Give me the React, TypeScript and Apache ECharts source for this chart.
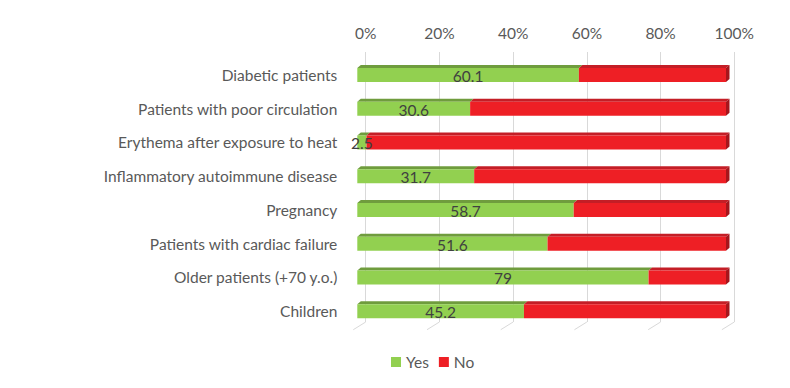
import React, { useEffect, useRef } from "react";
import * as echarts from "echarts";

const categories = [
  "Diabetic patients",
  "Patients with poor circulation",
  "Erythema after exposure to heat",
  "Inflammatory autoimmune disease",
  "Pregnancy",
  "Patients with cardiac failure",
  "Older patients (+70 y.o.)",
  "Children",
];
const yesValues = [60.1, 30.6, 2.5, 31.7, 58.7, 51.6, 79, 45.2];
const noValues = yesValues.map((v) => +(100 - v).toFixed(1));
const xTicks = [0, 20, 40, 60, 80, 100];

const FONT = "Lato, 'Noto Sans', sans-serif";
const FS = 15.5;
const DX = 3.5;
const DY = 3;
const H = 14;

const GREEN = { front: "#92d050", top: "#6f9c3d", side: "#5f8a33" };
const RED = { front: "#ee1f25", top: "#c41e26", side: "#a5161c" };

function barRenderer(col: { front: string; top: string; side: string }) {
  return (params: any, api: any) => {
    const s = api.value(0);
    const e = api.value(1);
    const cat = api.value(2);
    const a = api.coord([s, cat]);
    const b = api.coord([e, cat]);
    const x0 = a[0];
    const x1 = b[0];
    const yt = a[1] - H / 2;
    const children: any[] = [
      {
        type: "polygon",
        shape: { points: [[x0, yt], [x0 + DX, yt - DY], [x1 + DX, yt - DY], [x1, yt]] },
        style: { fill: col.top },
      },
      {
        type: "rect",
        shape: { x: x0, y: yt, width: x1 - x0, height: H },
        style: { fill: col.front },
      },
    ];
    if (e >= 100) {
      children.push({
        type: "polygon",
        shape: { points: [[x1, yt], [x1 + DX, yt - DY], [x1 + DX, yt + H - DY], [x1, yt + H]] },
        style: { fill: col.side },
      });
    }
    return { type: "group", children };
  };
}

export default function App() {
  const ref = useRef<HTMLDivElement>(null);
  useEffect(() => {
    if (!ref.current) return;
    const chart = echarts.init(ref.current, null, { renderer: "svg" });
    const yesData = yesValues.map((v, i) => [0, v, i]);
    const noData = noValues.map((v, i) => [yesValues[i], yesValues[i] + v, i]);
    chart.setOption({
      animation: false,
      backgroundColor: "#ffffff",
      legend: {
        data: ["Yes", "No"],
        left: 386,
        top: 349,
        itemWidth: 10,
        itemHeight: 10,
        itemGap: 10,
        icon: "rect",
        textStyle: { color: "#595959", fontSize: FS, fontFamily: FONT },
      },
      grid: [
        { left: 365.7, right: 55.7, top: 52, height: 270 },
        { left: 357.3, right: 64, top: 58.1, height: 270 },
      ],
      xAxis: [
        {
          type: "value",
          gridIndex: 0,
          position: "top",
          min: 0,
          max: 100,
          interval: 20,
          axisLine: { show: false },
          axisTick: { show: false },
          axisLabel: {
            formatter: "{value}%",
            color: "#595959",
            fontSize: FS,
            fontFamily: FONT,
            margin: 11,
          },
          splitLine: { show: true, lineStyle: { color: "#d9d9d9", width: 1 } },
        },
        { type: "value", gridIndex: 1, min: 0, max: 100, show: false },
      ],
      yAxis: [
        {
          type: "category",
          gridIndex: 0,
          data: categories,
          inverse: true,
          show: false,
        },
        {
          type: "category",
          gridIndex: 1,
          data: categories,
          inverse: true,
          axisLine: { show: false },
          axisTick: { show: false },
          axisLabel: {
            color: "#595959",
            fontSize: FS,
            fontFamily: FONT,
            margin: 20,
            padding: [6, 0, 0, 0],
          },
        },
      ],
      series: [
        {
          type: "custom",
          name: "floor",
          xAxisIndex: 0,
          yAxisIndex: 0,
          data: xTicks.map((v) => [v, 0]),
          encode: { x: 0, y: 1 },
          silent: true,
          renderItem: (params: any, api: any) => {
            const p = api.coord([api.value(0), 0]);
            const cs = params.coordSys;
            const bottom = cs.y + cs.height;
            return {
              type: "line",
              shape: { x1: p[0], y1: bottom, x2: p[0] - 12.4, y2: bottom + 7.7 },
              style: { stroke: "#d9d9d9", lineWidth: 1 },
            };
          },
        },
        {
          type: "custom",
          name: "Yes",
          xAxisIndex: 1,
          yAxisIndex: 1,
          data: yesData,
          encode: { x: [0, 1], y: 2 },
          itemStyle: { color: GREEN.front },
          renderItem: barRenderer(GREEN),
        },
        {
          type: "custom",
          name: "No",
          xAxisIndex: 1,
          yAxisIndex: 1,
          data: noData,
          encode: { x: [0, 1], y: 2 },
          itemStyle: { color: RED.front },
          renderItem: barRenderer(RED),
        },
        {
          type: "custom",
          name: "labels",
          xAxisIndex: 1,
          yAxisIndex: 1,
          z: 10,
          data: yesData,
          encode: { x: [0, 1], y: 2 },
          silent: true,
          renderItem: (params: any, api: any) => {
            const a = api.coord([api.value(0), api.value(2)]);
            const b = api.coord([api.value(1), api.value(2)]);
            return {
              type: "text",
              style: {
                text: String(yesValues[params.dataIndex]),
                x: (a[0] + b[0]) / 2,
                y: a[1] + 1,
                align: "center",
                verticalAlign: "middle",
                fill: "#404040",
                fontSize: FS,
                fontFamily: FONT,
              },
            };
          },
        },
      ],
    });
    return () => chart.dispose();
  }, []);
  return (
    <div
      ref={ref}
      style={{ position: "fixed", left: 0, top: 0, width: 790, height: 388 }}
    />
  );
}
